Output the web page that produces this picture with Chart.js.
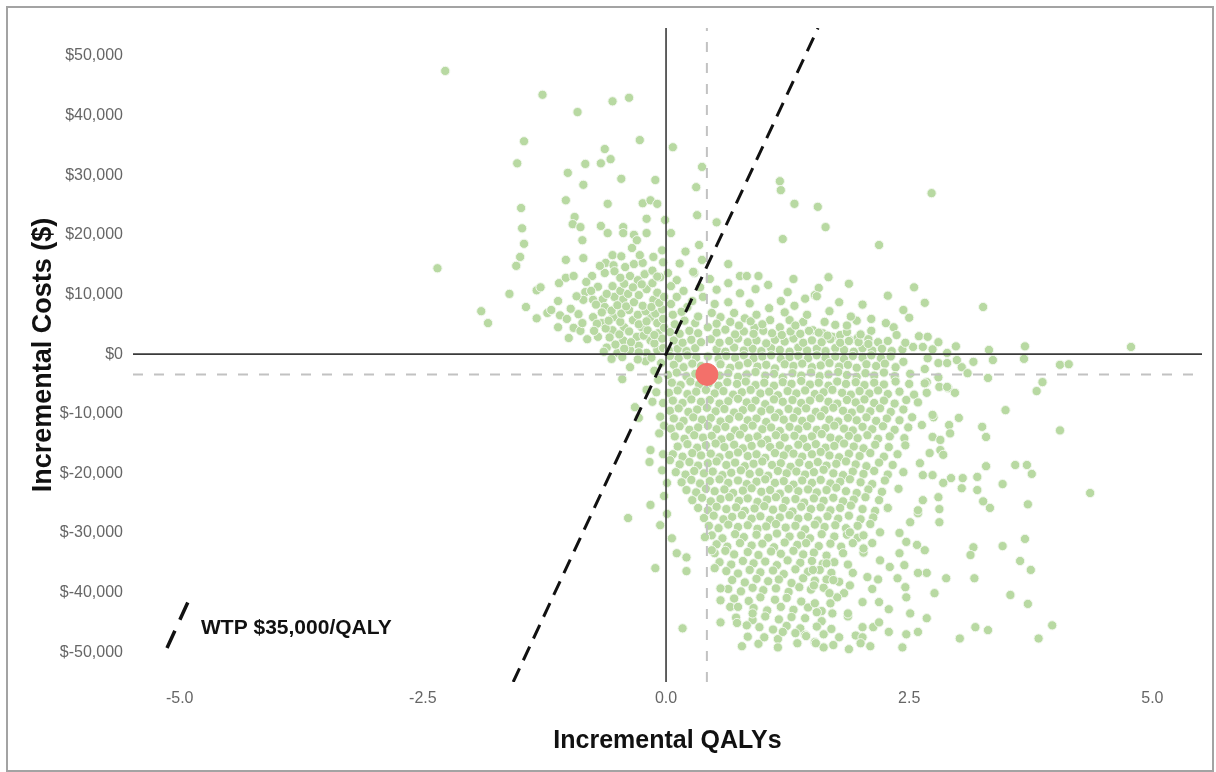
<!DOCTYPE html>
<html>
<head>
<meta charset="utf-8">
<script src="https://cdn.jsdelivr.net/npm/chart.js@4.4.1/dist/chart.umd.min.js"></script>
<style>
  html, body { margin: 0; padding: 0; background: #fff; }
  canvas { display: block; }
</style>
</head>
<body>
<canvas class="chart" width="1216" height="772"></canvas>
<script>
// axis ticks (costs in $ thousands)
const qalyTicks = [-5, -2.5, 0, 2.5, 5];
const costTicksK = [-50, -40, -30, -20, -10, 0, 10, 20, 30, 40, 50];

// mean of the simulations [QALY, cost $k]
const meanPoint = [0.42, -3.4];
// willingness to pay, $k per QALY
const wtpK = 35;

// simulated [incremental QALYs, incremental cost $k], read off the plot by quadrant
const simNorthWest = [
  [-2.27,47.5],[-1.27,43.5],[-0.91,40.6],[-0.55,42.4],[-0.38,43.0],[-1.46,35.7],[-1.53,32.0],[-0.27,35.9],
  [-0.63,34.4],[-0.57,32.7],[-0.67,32.0],[-0.83,31.9],[-1.01,30.4],[-0.85,28.4],[-0.46,29.4],[-0.11,29.2],
  [-1.03,25.8],[-0.60,25.2],[-0.24,25.3],[-0.16,25.8],[-0.09,25.2],[-1.49,24.5],[-1.48,21.1],[-1.46,18.5],
  [-1.50,16.3],[-1.54,14.8],[-2.35,14.4],[-0.94,23.0],[-0.96,21.8],[-0.88,21.3],[-0.67,21.5],[-0.60,20.3],
  [-0.86,19.1],[-0.44,21.3],[-0.44,20.3],[-0.33,20.0],[-0.30,19.1],[-0.20,20.3],[-0.20,22.7],[-0.01,22.5],
  [-0.35,17.8],[-0.55,16.6],[-0.62,15.3],[-0.54,14.9],[-0.53,13.9],[-0.63,13.6],[-1.03,15.8],[-0.85,16.1],
  [-0.76,13.1],[-0.13,16.3],[-0.04,17.4],[-0.03,15.4],[-0.33,15.1],[-0.24,15.3],[-1.61,10.1],[-1.90,7.2],
  [-1.83,5.2],[-1.44,7.9],[-1.33,10.7],[-1.29,11.2],[-1.10,11.9],[-1.03,12.8],[-0.95,13.1],[-1.11,8.9],
  [-1.33,6.0],[-1.22,6.9],[-1.18,7.4],[-1.09,6.5],[-1.11,4.5],[-1.02,5.9],[-0.95,4.4],[-0.88,3.9],
  [-0.81,2.5],[-1.00,2.7],[-0.83,10.4],[-0.82,12.1],[-0.85,9.1],[-0.75,9.1],[-0.65,9.2],[-0.63,7.9],
  [-0.53,9.6],[-0.44,9.2],[-0.37,13.1],[-0.29,12.4],[-0.20,10.9],[-0.13,9.1],[-0.06,12.9],[-0.75,6.2],
  [-0.66,5.2],[-0.54,6.2],[-0.43,4.5],[-0.34,5.7],[-0.25,4.5],[-0.16,6.2],[-0.09,5.2],[-0.70,2.9],
  [-0.55,4.0],[-0.44,2.3],[-0.30,2.9],[-0.16,2.3],[-0.08,3.5],[-0.50,0.2],[-0.37,0.7],[-0.20,0.2],
  [-0.09,0.7],[-0.61,1.1],[-0.52,1.6],[-0.43,0.9],[-0.28,1.4],[-0.12,1.8],[-0.03,1.0],[-0.58,2.8],
  [-0.36,2.0],[-0.23,3.1],[-0.04,2.6],[-0.62,4.3],[-0.48,3.3],[-0.38,3.8],[-0.19,4.0],[-0.12,3.2],
  [-0.02,4.4],[-0.71,5.1],[-0.59,5.6],[-0.47,5.4],[-0.28,5.0],[-0.20,5.5],[-0.03,5.9],[-0.66,7.0],
  [-0.56,7.3],[-0.46,6.8],[-0.38,7.4],[-0.29,6.6],[-0.21,7.2],[-0.11,6.8],[-0.04,7.5],[-0.72,8.3],
  [-0.50,8.2],[-0.41,8.0],[-0.33,8.7],[-0.24,8.1],[-0.15,7.9],[-0.07,8.6],[-0.61,10.1],[-0.47,10.6],
  [-0.39,10.1],[-0.28,9.9],[-0.09,10.3],[-0.02,9.6],[-0.55,11.4],[-0.43,11.8],[-0.34,11.2],[-0.25,11.7],
  [-0.14,11.9],[-0.47,12.8],[-0.22,13.4],[-0.14,14.0],[-0.42,14.6],[-0.09,13.0],[-0.27,16.6],[-0.46,16.4],
  [-0.70,11.3],[-0.68,14.8],[-0.77,10.6],[-0.92,9.7],[-0.98,7.6],[-0.90,6.7],[-0.86,5.2],[-0.74,3.9],
  [-0.64,0.4],[-0.28,0.3]
];

const simNorthEast = [
  [0.07,34.7],[0.31,28.0],[0.37,31.4],[0.32,23.3],[0.52,22.1],[0.05,20.3],[0.34,18.3],[1.17,29.0],
  [1.18,27.5],[1.32,25.2],[1.56,24.7],[1.64,21.3],[2.19,18.3],[2.73,27.0],[1.20,19.3],[0.11,12.4],
  [0.02,13.6],[0.11,9.6],[0.22,7.9],[0.29,13.6],[0.35,11.2],[0.38,9.6],[0.47,6.9],[0.43,4.5],
  [0.64,15.1],[0.76,13.1],[0.83,13.1],[0.95,13.1],[1.31,12.6],[0.64,11.9],[0.76,10.2],[1.06,7.7],
  [1.18,8.9],[1.53,9.9],[0.28,13.8],[0.37,15.8],[0.56,6.2],[0.64,8.7],[0.81,6.0],[0.91,4.4],
  [1.07,5.7],[1.17,4.5],[1.27,5.7],[1.41,5.4],[1.51,4.0],[1.67,12.9],[1.57,11.1],[1.55,9.7],
  [2.55,11.2],[2.66,8.6],[2.44,7.4],[3.26,7.9],[2.11,5.9],[2.11,3.9],[2.34,4.5],[2.37,3.2],
  [2.60,3.0],[2.69,2.9],[2.54,1.2],[2.64,1.2],[2.74,0.8],[2.89,0.2],[2.98,1.3],[3.32,0.7],
  [3.69,1.3],[4.78,1.2],[1.61,3.5],[1.71,2.9],[1.79,3.2],[1.89,2.3],[1.97,2.7],[2.08,2.5],
  [2.18,2.0],[1.74,4.9],[0.14,15.2],[0.20,17.2],
  [0.03,0.6],[0.12,0.9],[0.21,0.5],[0.30,1.0],[0.52,0.8],[0.61,0.4],[0.70,1.1],[0.80,0.6],
  [0.89,0.9],[0.98,0.5],[1.08,1.0],[1.17,0.7],[1.27,0.4],[1.36,1.1],[1.45,0.6],[1.55,0.9],
  [1.64,0.5],[1.74,1.0],[1.83,0.7],[1.93,0.4],[2.02,1.0],[2.12,0.6],[2.22,0.9],[2.32,0.5],
  [2.43,0.8],[0.08,2.3],[0.17,1.9],[0.26,2.4],[0.36,2.0],[0.46,2.5],[0.55,1.9],[0.65,2.2],
  [0.74,2.6],[0.84,2.0],[0.93,2.3],[1.03,1.8],[1.12,2.4],[1.22,2.1],[1.31,2.6],[1.41,1.9],
  [1.50,2.3],[1.60,2.0],[1.69,2.5],[1.79,1.9],[1.88,2.2],[1.98,2.0],[2.08,1.7],[2.28,2.2],
  [2.46,1.9],[2.80,2.0],[0.04,3.7],[0.14,3.4],[0.24,3.9],[0.33,3.5],[0.52,3.6],[0.61,4.1],
  [0.71,3.3],[0.80,3.8],[0.90,3.4],[1.00,3.9],[1.09,3.5],[1.19,3.2],[1.28,3.8],[1.38,3.4],
  [1.47,3.9],[1.57,3.6],[1.66,3.1],[1.86,3.7],[2.00,3.3],[0.09,5.0],[0.19,5.6],[0.30,5.2],
  [0.52,5.1],[0.66,5.4],[0.75,4.8],[0.87,5.5],[0.99,5.0],[1.33,4.8],[1.63,5.4],[1.86,4.8],
  [1.96,5.6],[2.26,5.2],[0.07,6.6],[0.16,7.1],[0.33,6.3],[0.70,6.9],[0.93,6.6],[1.22,7.0],
  [1.45,6.6],[1.68,7.2],[1.90,6.3],[2.50,6.1],[0.05,8.4],[0.27,8.9],[0.50,8.4],[0.86,8.5],
  [1.32,8.1],[1.43,9.3],[1.78,8.7],[2.02,8.3],[0.18,10.6],[0.05,11.4],[0.52,10.8],[0.92,10.9],
  [1.05,11.6],[1.25,10.4],[1.88,11.8],[0.45,12.6],[2.28,9.8]
];

const simSouthWest = [
  [-0.37,-2.2],[-0.45,-4.2],[-0.32,-8.9],[-0.28,-10.7],[-0.20,-6.0],[-0.10,-6.4],[-0.07,-13.3],[-0.16,-16.1],
  [-0.17,-18.1],[-0.16,-25.3],[-0.06,-28.7],[-0.39,-27.5],[-0.11,-35.9],[-0.05,-1.5],[-0.12,-2.8],[-0.21,-1.2],
  [-0.08,-4.3],[-0.29,-0.9],[-0.03,-8.2],[-0.06,-10.5],[-0.03,-16.8],[-0.02,-12.0],[-0.14,-8.0],[-0.04,-19.5],
  [-0.02,-23.8],[-0.56,-0.8],[-0.45,-0.5],[-0.15,-0.6]
];

const simSouthEast = [
  [0.04,-0.3],[0.13,-0.7],[0.22,-0.2],[0.31,-0.6],[0.43,-0.4],[0.54,-0.8],[0.62,-0.3],[0.71,-0.6],
  [0.80,-0.2],[0.90,-0.7],[0.99,-0.4],[1.08,-0.2],[1.18,-0.8],[1.27,-0.5],[1.36,-0.3],[1.46,-0.7],
  [1.55,-0.2],[1.64,-0.6],[1.74,-0.4],[1.83,-0.8],[1.92,-0.3],[2.02,-0.6],[2.11,-0.2],[2.21,-0.7],
  [2.31,-0.4],
  [0.08,-1.8],[0.18,-2.2],[0.27,-1.6],[0.36,-2.0],[0.56,-1.7],[0.66,-2.3],[0.75,-1.9],[0.84,-1.5],
  [0.94,-2.1],[1.03,-1.8],[1.12,-2.4],[1.22,-1.7],[1.31,-2.0],[1.40,-1.6],[1.50,-2.2],[1.59,-1.9],
  [1.68,-1.5],[1.78,-2.1],[1.87,-1.8],[1.96,-2.3],[2.06,-1.7],[2.16,-2.0],[2.25,-1.6],[2.36,-2.2],
  [0.02,-3.5],[0.11,-3.1],[0.21,-3.7],[0.30,-3.3],[0.55,-3.6],[0.64,-3.2],[0.74,-3.8],[0.83,-3.4],
  [0.92,-3.0],[1.02,-3.6],[1.11,-3.3],[1.20,-3.9],[1.30,-3.2],[1.39,-3.6],[1.49,-3.1],[1.58,-3.7],
  [1.67,-3.4],[1.77,-3.0],[1.86,-3.5],[1.96,-3.8],[2.05,-3.2],[2.14,-3.6],[2.24,-3.1],[2.35,-3.7],
  [2.51,-3.3],
  [0.06,-4.8],[0.15,-5.2],[0.25,-4.6],[0.34,-5.1],[0.44,-4.9],[0.54,-5.3],[0.63,-4.7],[0.73,-5.0],
  [0.82,-4.6],[0.92,-5.2],[1.01,-4.8],[1.11,-5.3],[1.20,-4.7],[1.29,-5.0],[1.39,-4.5],[1.48,-5.1],
  [1.57,-4.8],[1.67,-5.3],[1.76,-4.6],[1.85,-5.0],[1.95,-4.7],[2.04,-5.2],[2.14,-4.8],[2.24,-5.1],
  [2.36,-4.6],[2.50,-5.0],
  [0.03,-6.5],[0.12,-6.1],[0.22,-6.7],[0.31,-6.3],[0.41,-6.0],[0.50,-6.6],[0.59,-6.2],[0.69,-6.8],
  [0.78,-6.4],[0.87,-6.0],[0.97,-6.6],[1.06,-6.3],[1.15,-6.9],[1.25,-6.2],[1.34,-6.6],[1.43,-6.1],
  [1.53,-6.7],[1.62,-6.4],[1.71,-6.0],[1.81,-6.5],[1.90,-6.8],[1.99,-6.2],[2.09,-6.6],[2.18,-6.1],
  [2.28,-6.7],[2.40,-6.3],[2.55,-6.8],
  [0.07,-7.8],[0.17,-8.2],[0.26,-7.6],[0.36,-8.0],[0.45,-7.7],[0.55,-8.3],[0.64,-7.9],[0.74,-7.5],
  [0.83,-8.1],[0.92,-7.8],[1.02,-8.4],[1.11,-7.6],[1.20,-8.0],[1.30,-7.7],[1.39,-8.2],[1.48,-7.8],
  [1.58,-7.4],[1.67,-8.0],[1.76,-8.3],[1.86,-7.7],[1.95,-8.1],[2.04,-7.6],[2.14,-8.2],[2.24,-7.8],
  [2.35,-8.3],[2.47,-7.7],
  [0.04,-9.5],[0.13,-9.1],[0.23,-9.7],[0.32,-9.3],[0.42,-9.0],[0.51,-9.6],[0.60,-9.2],[0.70,-9.8],
  [0.79,-9.4],[0.88,-9.0],[0.98,-9.6],[1.07,-9.3],[1.16,-9.9],[1.26,-9.2],[1.35,-9.6],[1.44,-9.1],
  [1.54,-9.7],[1.63,-9.4],[1.72,-9.0],[1.82,-9.5],[1.91,-9.8],[2.00,-9.2],[2.10,-9.6],[2.20,-9.1],
  [2.31,-9.7],[2.44,-9.3],
  [0.08,-10.8],[0.18,-11.2],[0.28,-10.6],[0.37,-11.0],[0.46,-10.7],[0.56,-11.3],[0.65,-10.9],[0.75,-10.5],
  [0.84,-11.1],[0.93,-10.8],[1.03,-11.4],[1.12,-10.6],[1.21,-11.0],[1.31,-10.7],[1.40,-11.2],[1.49,-10.8],
  [1.59,-10.4],[1.68,-11.0],[1.77,-11.3],[1.87,-10.7],[1.96,-11.1],[2.06,-10.6],[2.16,-11.2],[2.27,-10.8],
  [2.40,-11.1],[2.53,-10.6],
  [0.05,-12.5],[0.14,-12.1],[0.24,-12.7],[0.33,-12.3],[0.43,-12.0],[0.52,-12.6],[0.61,-12.2],[0.71,-12.8],
  [0.80,-12.4],[0.89,-12.0],[0.99,-12.6],[1.08,-12.3],[1.17,-12.9],[1.27,-12.2],[1.36,-12.6],[1.45,-12.1],
  [1.55,-12.7],[1.64,-12.4],[1.73,-12.0],[1.83,-12.5],[1.92,-12.8],[2.02,-12.2],[2.12,-12.6],[2.23,-12.1],
  [2.35,-12.7],[2.49,-12.3],
  [0.09,-13.8],[0.19,-14.2],[0.29,-13.6],[0.38,-14.0],[0.47,-13.7],[0.57,-14.3],[0.66,-13.9],[0.76,-13.5],
  [0.85,-14.1],[0.94,-13.8],[1.04,-14.4],[1.13,-13.6],[1.22,-14.0],[1.32,-13.7],[1.41,-14.2],[1.50,-13.8],
  [1.60,-13.4],[1.69,-14.0],[1.78,-14.3],[1.88,-13.7],[1.97,-14.1],[2.07,-13.6],[2.18,-14.2],[2.30,-13.8],
  [2.45,-14.1],
  [0.12,-15.5],[0.22,-15.1],[0.32,-15.7],[0.41,-15.3],[0.51,-15.0],[0.60,-15.6],[0.70,-15.2],[0.79,-15.8],
  [0.88,-15.4],[0.98,-15.0],[1.07,-15.6],[1.17,-15.3],[1.26,-15.9],[1.36,-15.2],[1.45,-15.6],[1.54,-15.1],
  [1.64,-15.7],[1.73,-15.4],[1.83,-15.0],[1.93,-15.5],[2.03,-15.8],[2.15,-15.2],[2.29,-15.6],[2.46,-15.3],
  [0.07,-16.8],[0.17,-17.2],[0.27,-16.6],[0.36,-17.0],[0.46,-16.7],[0.55,-17.3],[0.65,-16.9],[0.74,-16.5],
  [0.84,-17.1],[0.93,-16.8],[1.02,-17.4],[1.12,-16.6],[1.21,-17.0],[1.31,-16.7],[1.40,-17.2],[1.50,-16.8],
  [1.59,-16.4],[1.68,-17.0],[1.78,-17.3],[1.88,-16.7],[1.99,-17.1],[2.10,-16.6],[2.24,-17.2],[2.38,-16.8],
  [0.14,-18.5],[0.24,-18.1],[0.33,-18.7],[0.43,-18.3],[0.52,-18.0],[0.62,-18.6],[0.71,-18.2],[0.81,-18.8],
  [0.90,-18.4],[0.99,-18.0],[1.09,-18.6],[1.18,-18.3],[1.28,-18.9],[1.37,-18.2],[1.47,-18.6],[1.56,-18.1],
  [1.65,-18.7],[1.75,-18.4],[1.85,-18.0],[1.95,-18.5],[2.06,-18.8],[2.19,-18.2],[2.33,-18.6],
  [0.10,-19.8],[0.20,-20.2],[0.29,-19.6],[0.39,-20.0],[0.48,-19.7],[0.58,-20.3],[0.67,-19.9],[0.77,-19.5],
  [0.86,-20.1],[0.96,-19.8],[1.05,-20.4],[1.15,-19.6],[1.24,-20.0],[1.34,-19.7],[1.43,-20.2],[1.52,-19.8],
  [1.62,-19.4],[1.72,-20.0],[1.82,-20.3],[1.92,-19.7],[2.03,-20.1],[2.14,-19.6],[2.28,-20.2],[2.44,-19.8],
  [0.16,-21.5],[0.26,-21.1],[0.35,-21.7],[0.45,-21.3],[0.55,-21.0],[0.64,-21.6],[0.74,-21.2],[0.83,-21.8],
  [0.93,-21.4],[1.02,-21.0],[1.12,-21.6],[1.21,-21.3],[1.31,-21.9],[1.40,-21.2],[1.50,-21.6],[1.59,-21.1],
  [1.69,-21.7],[1.79,-21.4],[1.89,-21.0],[2.00,-21.5],[2.12,-21.8],[2.25,-21.2],
  [0.21,-22.8],[0.31,-23.2],[0.41,-22.6],[0.50,-23.0],[0.60,-22.7],[0.69,-23.3],[0.79,-22.9],[0.88,-22.5],
  [0.98,-23.1],[1.07,-22.8],[1.17,-23.4],[1.26,-22.6],[1.36,-23.0],[1.46,-22.7],[1.55,-23.2],[1.65,-22.8],
  [1.75,-22.4],[1.85,-23.0],[1.96,-23.3],[2.08,-22.7],[2.22,-23.1],[2.39,-22.6],
  [0.27,-24.5],[0.37,-24.1],[0.46,-24.7],[0.56,-24.3],[0.65,-24.0],[0.75,-24.6],[0.84,-24.2],[0.94,-24.8],
  [1.04,-24.4],[1.13,-24.0],[1.23,-24.6],[1.33,-24.3],[1.42,-24.9],[1.52,-24.2],[1.62,-24.6],[1.72,-24.1],
  [1.82,-24.7],[1.93,-24.4],[2.05,-24.0],[2.19,-24.5],
  [0.33,-25.8],[0.43,-26.2],[0.52,-25.6],[0.62,-26.0],[0.72,-25.7],[0.81,-26.3],[0.91,-25.9],[1.01,-25.5],
  [1.10,-26.1],[1.20,-25.8],[1.30,-26.4],[1.39,-25.6],[1.49,-26.0],[1.59,-25.7],[1.69,-26.2],[1.79,-25.8],
  [1.90,-25.4],[2.02,-26.0],[2.15,-26.3],[2.28,-25.8],
  [0.39,-27.5],[0.49,-27.1],[0.59,-27.7],[0.68,-27.3],[0.78,-27.0],[0.88,-27.6],[0.97,-27.2],[1.07,-27.8],
  [1.17,-27.4],[1.27,-27.0],[1.36,-27.6],[1.46,-27.3],[1.56,-27.9],[1.66,-27.2],[1.77,-27.6],[1.88,-27.1],
  [2.00,-27.7],[2.13,-27.4],
  [0.44,-28.8],[0.54,-29.2],[0.64,-28.6],[0.74,-29.0],[0.84,-28.7],[0.94,-29.3],[1.03,-28.9],[1.13,-28.5],
  [1.23,-29.1],[1.33,-28.8],[1.43,-29.4],[1.53,-28.6],[1.63,-29.0],[1.74,-28.7],[1.85,-29.2],[1.97,-28.8],
  [2.10,-28.5],
  [0.47,-30.4],[0.58,-30.9],[0.71,-30.2],[0.80,-30.7],[0.93,-30.3],[1.05,-30.8],[1.14,-30.1],[1.27,-30.6],
  [1.39,-30.4],[1.48,-30.9],[1.60,-30.2],[1.73,-30.6],[1.86,-30.3],[1.97,-30.8],
  [0.52,-31.9],[0.63,-32.3],[0.76,-31.7],[0.88,-32.1],[0.99,-31.8],[1.11,-32.4],[1.22,-31.6],[1.35,-32.0],
  [1.44,-31.7],[1.57,-32.2],[1.69,-31.8],[1.80,-32.3],[1.92,-31.7],
  [0.50,-33.4],[0.61,-33.0],[0.70,-33.6],[0.84,-33.2],[0.95,-33.7],[1.08,-33.1],[1.18,-33.5],[1.31,-33.0],
  [1.41,-33.6],[1.52,-33.3],[1.65,-33.8],[2.03,-33.3],
  [0.55,-34.9],[0.67,-35.3],[0.79,-34.7],[0.90,-35.1],[1.02,-34.8],[1.14,-35.4],[1.25,-34.6],[1.38,-35.0],
  [1.50,-34.7],[1.61,-35.2],[1.73,-34.9],[1.87,-35.3],
  [0.62,-36.4],[0.74,-36.8],[0.86,-36.2],[0.97,-36.6],[1.10,-36.3],[1.21,-36.9],[1.33,-36.1],[1.46,-36.5],
  [1.58,-36.2],[1.70,-36.7],
  [0.68,-37.9],[0.81,-38.3],[0.93,-37.7],[1.05,-38.1],[1.16,-37.8],[1.29,-38.4],[1.41,-37.6],[1.53,-38.0],
  [1.65,-37.8],[1.78,-38.2],
  [0.64,-39.4],[0.77,-39.8],[0.89,-39.2],[1.00,-39.6],[1.13,-39.3],[1.26,-39.9],[1.37,-39.1],[1.49,-39.5],
  [1.62,-39.2],
  [0.70,-41.0],[0.85,-41.4],[0.97,-40.8],[1.12,-41.2],[1.24,-40.9],[1.39,-41.5],
  [0.90,-42.6],[1.04,-43.0],[1.18,-42.4],[1.31,-42.9],[1.46,-42.5],[1.60,-43.1],
  [0.72,-44.2],[0.89,-44.6],[1.02,-44.0],[1.16,-44.5],[1.29,-44.1],[1.60,-44.8],[1.87,-44.0],
  [0.96,-45.8],[1.10,-46.2],[1.24,-45.6],[1.38,-46.0],[1.55,-45.7],[1.70,-46.1],
  [0.84,-47.4],[1.15,-47.8],[1.62,-47.0],[1.95,-47.2],
  [0.78,-49.0],[0.95,-48.6],[1.15,-49.2],[1.72,-48.8],[2.10,-49.0]
];

// sparser edge of the south-east cloud
const simSouthEastEdge = [
  [0.01,-21.6],[0.01,-26.8],[0.06,-30.9],[0.11,-33.4],[0.21,-34.1],[0.21,-36.4],[0.40,-30.7],[0.47,-32.9],
  [0.50,-35.9],[0.56,-39.3],[0.56,-41.3],[0.56,-45.0],[0.66,-42.4],[0.74,-42.4],[0.83,-45.5],[0.89,-43.5],
  [0.73,-45.1],[1.01,-47.5],[1.35,-48.5],[1.43,-47.1],[1.53,-48.3],[1.20,-46.6],[1.33,-46.8],[0.17,-46.0],
  [0.04,-17.8],[1.52,-38.8],[1.89,-38.8],[1.83,-40.1],[1.76,-40.8],[1.68,-40.1],[1.69,-41.8],[1.53,-41.8],
  [1.43,-44.3],[2.12,-39.4],[2.18,-37.8],[2.29,-42.8],[2.19,-41.6],[2.02,-41.6],[1.87,-43.5],[1.71,-43.5],
  [1.55,-43.3],[2.13,-45.8],[2.02,-45.8],[2.19,-45.0],[1.88,-49.5],[2.02,-47.5],[2.00,-48.5],[1.78,-47.5],
  [1.62,-49.2],[1.54,-48.5],[1.44,-47.3],[2.28,-25.8],[2.59,-26.7],[2.40,-30.0],[2.47,-31.5],[2.58,-32.0],
  [2.66,-32.9],[2.20,-29.9],[2.12,-31.7],[2.03,-30.4],[2.03,-32.6],[1.89,-29.9],[1.82,-33.4],[1.72,-37.9],
  [1.65,-35.1],[1.51,-36.2],[1.92,-36.7],[2.07,-37.4],[2.38,-37.6],[2.46,-39.1],[2.47,-40.8],[2.30,-35.7],
  [2.20,-34.6],[2.68,-36.7],[2.76,-40.1],[2.59,-36.7],[2.51,-43.5],[2.68,-44.3],[2.59,-46.6],[2.47,-47.0],
  [2.29,-46.6],[2.43,-49.2],
  [3.36,-1.0],[3.68,-0.8],[2.44,-1.3],[2.66,-2.5],[2.80,-1.5],[2.99,-1.0],[3.04,-2.2],[3.16,-1.3],
  [3.10,-3.2],[4.05,-1.8],[4.14,-1.7],[3.31,-4.0],[3.81,-6.2],[3.87,-4.7],[2.68,-4.7],[2.81,-5.5],
  [2.90,-5.7],[2.97,-6.5],[3.49,-9.4],[4.05,-12.8],[2.75,-10.6],[2.91,-11.9],[3.01,-10.7],[2.92,-13.3],
  [2.74,-13.9],[2.63,-11.9],[3.25,-12.2],[3.29,-13.9],[2.82,-16.1],[2.85,-16.9],[2.71,-16.6],[2.61,-18.3],
  [3.29,-18.8],[3.20,-20.6],[3.05,-20.8],[3.04,-22.5],[2.93,-20.8],[2.85,-21.6],[2.74,-20.3],[2.64,-20.3],
  [3.59,-18.6],[3.71,-18.6],[3.76,-20.1],[3.46,-21.8],[4.36,-23.3],[3.20,-22.8],[3.26,-24.7],[3.33,-25.8],
  [3.72,-25.2],[2.80,-24.0],[2.81,-26.0],[2.81,-28.2],[2.64,-24.5],[2.59,-26.2],[2.51,-28.2],[3.16,-32.4],
  [3.13,-33.7],[3.46,-32.2],[3.69,-31.0],[3.64,-34.7],[3.75,-36.2],[2.40,-33.4],[2.45,-35.4],[2.88,-37.6],
  [3.17,-37.6],[3.54,-40.4],[3.72,-41.9],[3.02,-47.7],[3.18,-45.8],[3.31,-46.3],[3.97,-45.5],[3.83,-47.7],
  [2.69,-0.7],[2.89,-1.5],[2.80,-3.9],[2.89,-5.5],[2.74,-10.2],[2.82,-14.4],[2.66,-4.9],[2.68,-6.5],
  [2.59,-8.1]
];

const xMin = -5.48, xMax = 5.51;
const yMin = -55, yMax = 54.7;

const toXY = arr => arr.map(p => ({x: p[0], y: p[1]}));
const simulations = toXY([].concat(simNorthWest, simNorthEast, simSouthWest, simSouthEast, simSouthEastEdge));

const wtpKey = {
  id: 'wtpKey',
  beforeDraw(chart) {
    const ctx = chart.ctx;
    ctx.save();
    ctx.fillStyle = '#fff';
    ctx.fillRect(0, 0, chart.width, chart.height);
    ctx.restore();
  },
  afterDraw(chart) {
    const {ctx, chartArea} = chart;
    ctx.save();
    // outer frame
    ctx.strokeStyle = '#a3a3a3';
    ctx.lineWidth = 2;
    ctx.strokeRect(7, 7, 1206, 764);
    // legend key for the WTP line
    const x0 = chartArea.left + 34, y0 = chartArea.bottom - 34;
    ctx.strokeStyle = '#111';
    ctx.lineWidth = 3.5;
    ctx.setLineDash([19, 12]);
    ctx.beginPath();
    ctx.moveTo(x0, y0);
    ctx.lineTo(x0 + 21, y0 - 46);
    ctx.stroke();
    ctx.setLineDash([]);
    ctx.fillStyle = '#111';
    ctx.font = "bold 21px 'Liberation Sans', Arial, sans-serif";
    ctx.textBaseline = 'middle';
    ctx.fillText('WTP $35,000/QALY', x0 + 34, y0 - 20);
    ctx.restore();
  }
};

Chart.defaults.font.family = "'Liberation Sans', Arial, sans-serif";

const myChart = new Chart(document.querySelector('.chart'), {
  type: 'scatter',
  data: {
    datasets: [
      {
        label: 'Mean',
        data: [{x: meanPoint[0], y: meanPoint[1]}],
        pointRadius: 11,
        backgroundColor: '#f3706a',
        borderColor: '#f3706a',
        order: 0
      },
      {
        label: 'WTP',
        data: [{x: yMin / wtpK, y: yMin}, {x: yMax / wtpK, y: yMax}],
        showLine: true,
        borderColor: '#111',
        borderWidth: 3,
        borderDash: [15, 9],
        pointRadius: 0,
        order: 1
      },
      {
        label: 'Mean QALY',
        data: [{x: meanPoint[0], y: yMin}, {x: meanPoint[0], y: yMax}],
        showLine: true,
        borderColor: '#c2c2c2',
        borderWidth: 2,
        borderDash: [10, 11],
        pointRadius: 0,
        order: 1
      },
      {
        label: 'Mean cost',
        data: [{x: xMin, y: meanPoint[1]}, {x: xMax, y: meanPoint[1]}],
        showLine: true,
        borderColor: '#c2c2c2',
        borderWidth: 2,
        borderDash: [10, 11],
        pointRadius: 0,
        order: 1
      },
      {
        label: 'x0',
        data: [{x: 0, y: yMin}, {x: 0, y: yMax}],
        showLine: true,
        borderColor: '#3a3a3a',
        borderWidth: 1.6,
        pointRadius: 0,
        order: 1
      },
      {
        label: 'y0',
        data: [{x: xMin, y: 0}, {x: xMax, y: 0}],
        showLine: true,
        borderColor: '#3a3a3a',
        borderWidth: 1.6,
        pointRadius: 0,
        order: 1
      },
      {
        label: 'Simulations',
        data: simulations,
        pointRadius: 4.6,
        backgroundColor: '#b8d9a2',
        borderColor: '#f2f8ee',
        borderWidth: 1,
        order: 2
      }
    ]
  },
  options: {
    responsive: false,
    animation: false,
    events: [],
    layout: {padding: {top: 28, right: 14, bottom: 0, left: 0}},
    plugins: {
      legend: {display: false},
      tooltip: {enabled: false}
    },
    scales: {
      x: {
        type: 'linear',
        min: xMin,
        max: xMax,
        grid: {display: false, drawTicks: false},
        border: {display: false},
        afterBuildTicks: axis => { axis.ticks = qalyTicks.map(v => ({value: v})); },
        afterFit: axis => { axis.height = 90; },
        ticks: {
          color: '#666',
          font: {size: 16},
          padding: 7,
          maxRotation: 0,
          callback: v => v.toFixed(1)
        },
        title: {
          display: true,
          text: 'Incremental QALYs',
          color: '#111',
          font: {size: 25, weight: 'bold'},
          padding: {top: 0, bottom: 16}
        }
      },
      y: {
        type: 'linear',
        min: yMin,
        max: yMax,
        grid: {display: false, drawTicks: false},
        border: {display: false},
        afterBuildTicks: axis => { axis.ticks = costTicksK.map(v => ({value: v})); },
        afterFit: axis => { axis.width = 133; },
        ticks: {
          color: '#666',
          font: {size: 16},
          padding: 10,
          callback: v => '$' + (v * 1000).toLocaleString('en-US')
        },
        title: {
          display: true,
          text: 'Incremental Costs ($)',
          color: '#111',
          font: {size: 27, weight: 'bold'},
          padding: {top: 27, bottom: 0}
        }
      }
    }
  },
  plugins: [wtpKey]
});
</script>
</body>
</html>
